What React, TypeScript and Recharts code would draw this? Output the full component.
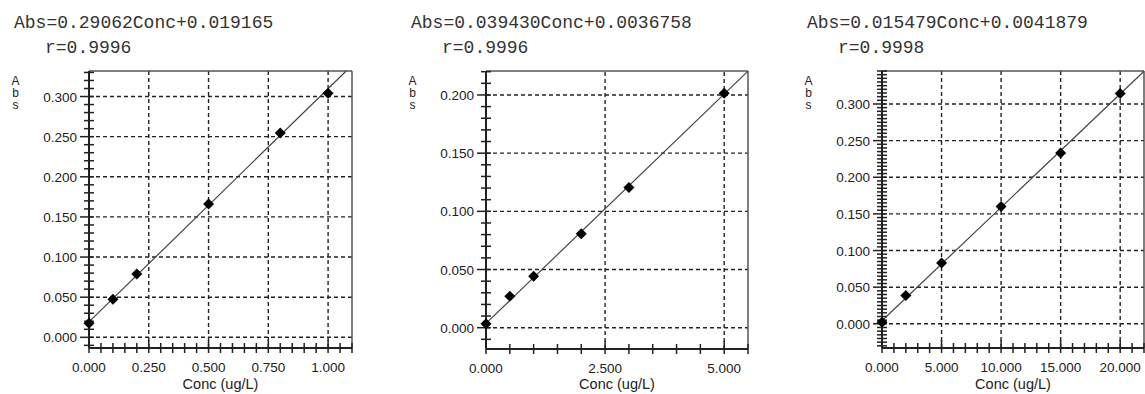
import React from 'react';
import { ComposedChart, Scatter, Line, XAxis, YAxis, ReferenceLine } from 'recharts';

// Calibration standards, one set per element
const concA = [0, 0.1, 0.2, 0.5, 0.8, 1.0];
const absA = [0.0175, 0.0475, 0.079, 0.166, 0.2545, 0.304];
const xTicksA = [0, 0.25, 0.5, 0.75, 1.0];
const yTicksA = [0, 0.05, 0.1, 0.15, 0.2, 0.25, 0.3];

const concB = [0, 0.5, 1.0, 2.0, 3.0, 5.0];
const absB = [0.0034, 0.027, 0.0442, 0.0807, 0.1205, 0.2014];
const xTicksB = [0, 2.5, 5.0];
const yTicksB = [0, 0.05, 0.1, 0.15, 0.2];

const concC = [0, 2, 5, 10, 15, 20];
const absC = [0.002, 0.0386, 0.083, 0.16, 0.233, 0.3143];
const xTicksC = [0, 5, 10, 15, 20];
const yTicksC = [0, 0.05, 0.1, 0.15, 0.2, 0.25, 0.3];

// regression results printed above each plot
const slopes = ['0.29062', '0.039430', '0.015479'];
const intercepts = ['0.019165', '0.0036758', '0.0041879'];
const rValues = ['0.9996', '0.9996', '0.9998'];

const xTitle = 'Conc (ug/L)';
const yTitle = ['A', 'b', 's'];

const FONT_TICK = '"Liberation Sans", Arial, sans-serif';
const FONT_EQ = '"Liberation Mono", "DejaVu Sans Mono", monospace';
const INK = '#222';

type Panel = {
  left: number;
  width: number;
  plot: { left: number; right: number; top: number; bottom: number };
  conc: number[];
  abs: number[];
  xDomain: [number, number];
  yDomain: [number, number];
  xTicks: number[];
  yTicks: number[];
  xMinor: number;
  yMinor: number;
  slope: string;
  intercept: string;
  r: string;
  textX: number;
};

const panels: Panel[] = [
  {
    left: 0, width: 380,
    plot: { left: 89, right: 352, top: 71, bottom: 348 },
    conc: concA, abs: absA,
    xDomain: [0, 1.1], yDomain: [-0.0133, 0.3318],
    xTicks: xTicksA, yTicks: yTicksA, xMinor: 0.05, yMinor: 0.01,
    slope: slopes[0], intercept: intercepts[0], r: rValues[0], textX: 14,
  },
  {
    left: 380, width: 385,
    plot: { left: 486, right: 748, top: 71, bottom: 349 },
    conc: concB, abs: absB,
    xDomain: [0, 5.5], yDomain: [-0.0183, 0.2206],
    xTicks: xTicksB, yTicks: yTicksB, xMinor: 0.5, yMinor: 0.01,
    slope: slopes[1], intercept: intercepts[1], r: rValues[1], textX: 411,
  },
  {
    left: 765, width: 380,
    plot: { left: 882, right: 1144, top: 71, bottom: 348 },
    conc: concC, abs: absC,
    xDomain: [0, 22], yDomain: [-0.033, 0.345],
    xTicks: xTicksC, yTicks: yTicksC, xMinor: 1, yMinor: 0.005,
    slope: slopes[2], intercept: intercepts[2], r: rValues[2], textX: 807,
  },
];

const X_AXIS_H = 40;
const Y_AXIS_W = 50;

const steps = (lo: number, hi: number, step: number) => {
  const out: number[] = [];
  const first = Math.ceil(lo / step - 1e-9);
  const last = Math.floor(hi / step + 1e-9);
  for (let i = first; i <= last; i++) out.push(+(i * step).toFixed(6));
  return out;
};

const isMajor = (v: number, majors: number[]) => majors.some((m) => Math.abs(m - v) < 1e-9);

// axis labels; the tick marks are drawn by the two "mark" scatters below
const makeXTick = (axisY: number) => (p: any) => (
  <text x={Number(p.x)} y={axisY + 24} textAnchor="middle" fontFamily={FONT_TICK} fontSize={13.5} fill={INK}>
    {Number(p.payload.value).toFixed(3)}
  </text>
);

const makeYTick = (axisX: number) => (p: any) => (
  <text x={axisX - 12} y={Number(p.y) + 5} textAnchor="end" fontFamily={FONT_TICK} fontSize={13.5} fill={INK}>
    {Number(p.payload.value).toFixed(3)}
  </text>
);

// tick marks cross the axis line; majors reach further into the plot
const XMark = (p: any) => {
  const { cx, cy, payload } = p;
  return <rect x={cx - 0.75} y={cy - (payload.major ? 8 : 5)} width={1.5} height={(payload.major ? 8 : 5) + 5} fill={INK} />;
};

const YMark = (p: any) => {
  const { cx, cy, payload } = p;
  return <rect x={cx - (payload.major ? 9 : 5)} y={cy - 0.75} width={(payload.major ? 9 : 5) + 5} height={1.5} fill={INK} />;
};

const Diamond = (p: any) => {
  const { cx, cy } = p;
  const r = 5.5;
  return <polygon points={`${cx},${cy - r} ${cx + r},${cy} ${cx},${cy + r} ${cx - r},${cy}`} fill="#000" />;
};

const axisParts = panels.map((p) => {
  const m = parseFloat(p.slope);
  const b = parseFloat(p.intercept);
  // the fitted line stops where it leaves the frame
  const xEnd = Math.min(p.xDomain[1], (p.yDomain[1] - b) / m);
  return {
    xTick: makeXTick(p.plot.bottom),
    yTick: makeYTick(p.plot.left - p.left),
    xMarks: steps(p.xDomain[0], p.xDomain[1], p.xMinor).map((v) => ({ x: v, y: p.yDomain[0], major: isMajor(v, p.xTicks) })),
    yMarks: steps(p.yDomain[0], p.yDomain[1], p.yMinor).map((v) => ({ x: p.xDomain[0], y: v, major: isMajor(v, p.yTicks) })),
    points: p.conc.map((c, i) => ({ x: c, y: p.abs[i] })),
    fit: [p.xDomain[0], xEnd].map((c) => ({ x: c, y: b + m * c })),
  };
});

const AXIS_LINE = { stroke: INK, strokeWidth: 2 };

function CalibrationPlot({ index }: { index: number }) {
  const panel = panels[index];
  const parts = axisParts[index];
  const { plot, xDomain, yDomain } = panel;
  const margin = {
    top: plot.top,
    bottom: 394 - plot.bottom - X_AXIS_H,
    left: plot.left - panel.left - Y_AXIS_W,
    right: panel.left + panel.width - plot.right,
  };

  return (
    <div style={{ position: 'absolute', left: panel.left, top: 0 }}>
      <ComposedChart width={panel.width} height={394} margin={margin}>
        <XAxis
          type="number"
          dataKey="x"
          domain={xDomain}
          ticks={panel.xTicks}
          interval={0}
          tickLine={false}
          tick={parts.xTick}
          height={X_AXIS_H}
          axisLine={AXIS_LINE}
        />
        <YAxis
          type="number"
          dataKey="y"
          domain={yDomain}
          ticks={panel.yTicks}
          interval={0}
          tickLine={false}
          tick={parts.yTick}
          width={Y_AXIS_W}
          axisLine={AXIS_LINE}
        />
        {panel.yTicks.map((v) => (
          <ReferenceLine key={`h${v}`} y={v} stroke={INK} strokeWidth={1.4} strokeDasharray="4 3" />
        ))}
        {panel.xTicks.filter((v) => v !== xDomain[0]).map((v) => (
          <ReferenceLine key={`v${v}`} x={v} stroke={INK} strokeWidth={1.4} strokeDasharray="4 3" />
        ))}
        <ReferenceLine y={yDomain[1]} stroke="#555" strokeWidth={1.5} />
        <ReferenceLine x={xDomain[1]} stroke="#555" strokeWidth={1.5} />
        <Line data={parts.fit} dataKey="y" stroke="#444" strokeWidth={1.2} dot={false} isAnimationActive={false} />
        <Scatter name="x-marks" data={parts.xMarks} dataKey="y" shape={XMark} isAnimationActive={false} />
        <Scatter name="y-marks" data={parts.yMarks} dataKey="y" shape={YMark} isAnimationActive={false} />
        <Scatter data={parts.points} dataKey="y" shape={<Diamond />} isAnimationActive={false} />
      </ComposedChart>
    </div>
  );
}

export default function App() {
  return (
    <div style={{ position: 'absolute', left: 0, top: 0, width: 1145, height: 394 }}>
      <svg width={1145} height={394} style={{ position: 'absolute', left: 0, top: 0 }}>
        {panels.map((p, i) => (
          <g key={i}>
            <text x={p.textX} y={28} fontFamily={FONT_EQ} fontSize={18} fill="#333">
              {`Abs=${p.slope}Conc+${p.intercept}`}
            </text>
            <text x={p.textX + 31} y={53} fontFamily={FONT_EQ} fontSize={18} fill="#333">
              {`r=${p.r}`}
            </text>
            {yTitle.map((ch, j) => (
              <text key={ch} x={p.textX + 1.5} y={85 + j * 11.8} textAnchor="middle" fontFamily={FONT_TICK} fontSize={12} fill={INK}>
                {ch}
              </text>
            ))}
            <text x={(p.plot.left + p.plot.right) / 2} y={389} textAnchor="middle" fontFamily={FONT_TICK} fontSize={14.5} fill={INK}>
              {xTitle}
            </text>
          </g>
        ))}
      </svg>
      {panels.map((p, i) => (
        <CalibrationPlot key={i} index={i} />
      ))}
    </div>
  );
}
